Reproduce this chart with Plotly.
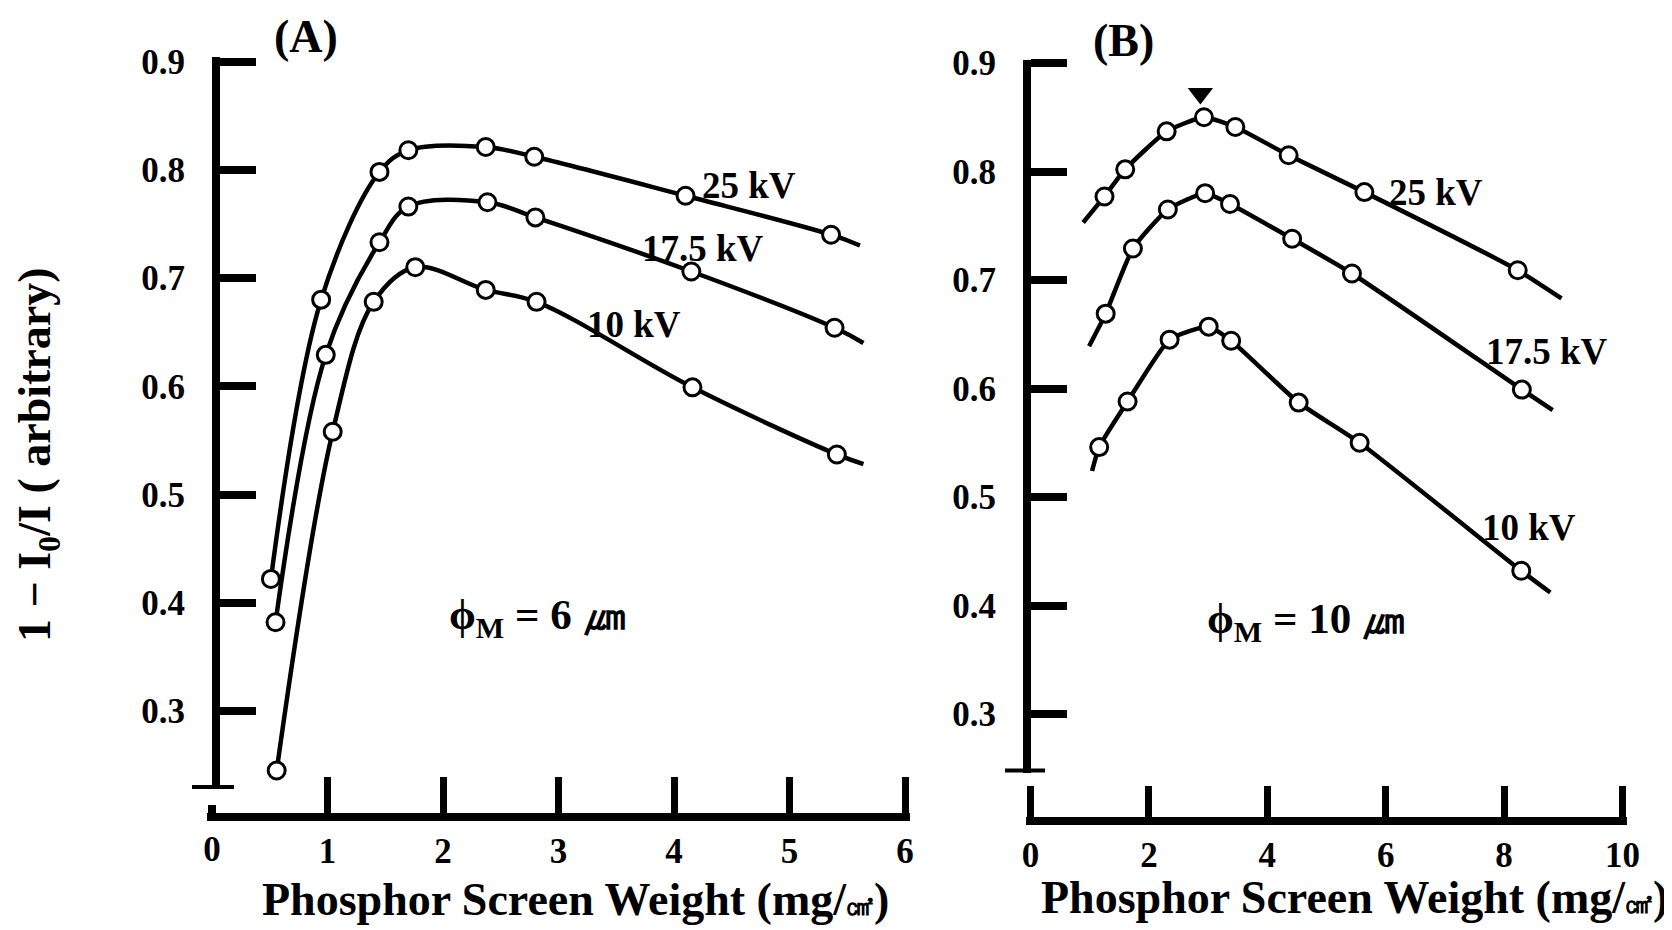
import plotly.graph_objects as go

# ---------------- data ----------------
# Panel A  (phi_M = 6 um)
a25_x = [0.51, 0.945, 1.45, 1.70, 2.37, 2.79, 4.10, 5.36]
a25_y = [0.422, 0.680, 0.798, 0.818, 0.821, 0.812, 0.776, 0.740]
a175_x = [0.55, 0.985, 1.45, 1.70, 2.385, 2.80, 4.15, 5.39]
a175_y = [0.382, 0.629, 0.733, 0.766, 0.770, 0.756, 0.706, 0.654]
a10_x = [0.56, 1.045, 1.40, 1.76, 2.37, 2.81, 4.16, 5.41]
a10_y = [0.245, 0.558, 0.678, 0.710, 0.689, 0.678, 0.599, 0.537]
# fitted-curve end points beyond the last datum
a25_end = (5.61, 0.730)
a175_end = (5.64, 0.640)
a10_end = (5.64, 0.528)

# Panel B  (phi_M = 10 um)
b25_x = [1.25, 1.60, 2.30, 2.93, 3.46, 4.36, 5.64, 8.23]
b25_y = [0.777, 0.802, 0.837, 0.850, 0.841, 0.815, 0.781, 0.709]
b175_x = [1.27, 1.73, 2.32, 2.95, 3.37, 4.42, 5.43, 8.30]
b175_y = [0.669, 0.729, 0.765, 0.780, 0.770, 0.738, 0.706, 0.599]
b10_x = [1.16, 1.64, 2.35, 3.01, 3.39, 4.53, 5.56, 8.29]
b10_y = [0.546, 0.588, 0.645, 0.657, 0.644, 0.587, 0.550, 0.432]
b25_start, b25_end = (0.89, 0.753), (8.97, 0.683)
b175_start, b175_end = (0.99, 0.639), (8.82, 0.580)
b10_start, b10_end = (1.04, 0.524), (8.78, 0.412)
b_peak_marker = (2.87, 0.872)

series_labels = ["25 kV", "17.5 kV", "10 kV"]
a_label_pos = [(4.65, 0.785), (4.25, 0.727), (3.65, 0.657)]
b_label_pos = [(6.85, 0.781), (8.72, 0.634), (8.42, 0.472)]

y_ticks = [0.3, 0.4, 0.5, 0.6, 0.7, 0.8, 0.9]
a_x_ticks = [1, 2, 3, 4, 5, 6]
b_x_ticks = [0, 2, 4, 6, 8, 10]

# ---------------- styling ----------------
# The page body has an 8px default margin, so the figure is made 8px smaller
# and every page-pixel position is shifted by that offset.
OFF = 8
W, H = 1672 - OFF, 930 - OFF
FONT = "Liberation Serif"
BLACK = "black"

def px(v):
    return (v - OFF) / W

def py(v):
    return 1 - (v - OFF) / H

fig = go.Figure()

marker_style = dict(symbol="circle", size=17, color="white",
                    line=dict(color=BLACK, width=3))

def add_series(xs, ys, start, end, xa, ya, smooth):
    lx = ([start[0]] if start else []) + list(xs) + [end[0]]
    ly = ([start[1]] if start else []) + list(ys) + [end[1]]
    fig.add_trace(go.Scatter(x=lx, y=ly, mode="lines", xaxis=xa, yaxis=ya,
                             line=dict(color=BLACK, width=4.5, shape="spline",
                                       smoothing=smooth),
                             hoverinfo="skip", showlegend=False))
    fig.add_trace(go.Scatter(x=xs, y=ys, mode="markers", xaxis=xa, yaxis=ya,
                             marker=marker_style, showlegend=False))

add_series(a25_x, a25_y, None, a25_end, "x", "y", 1.0)
add_series(a175_x, a175_y, None, a175_end, "x", "y", 1.0)
add_series(a10_x, a10_y, None, a10_end, "x", "y", 1.0)
add_series(b25_x, b25_y, b25_start, b25_end, "x2", "y2", 0.5)
add_series(b175_x, b175_y, b175_start, b175_end, "x2", "y2", 0.5)
add_series(b10_x, b10_y, b10_start, b10_end, "x2", "y2", 0.5)

fig.add_trace(go.Scatter(x=[b_peak_marker[0]], y=[b_peak_marker[1]], mode="markers",
                         xaxis="x2", yaxis="y2",
                         marker=dict(symbol="triangle-down", size=22, color=BLACK),
                         showlegend=False))
# dummy trace so the overlay axis carrying the "0" stub is drawn
fig.add_trace(go.Scatter(x=[0], y=[None], xaxis="x3", yaxis="y", mode="markers",
                         showlegend=False, hoverinfo="skip"))

tickfont = dict(family=FONT, size=35, color=BLACK, weight="bold")

axis_common = dict(showgrid=False, zeroline=False, showline=True,
                   linecolor=BLACK, ticks="inside", tickcolor=BLACK,
                   tickfont=tickfont, automargin=False)

# Panel A geometry (page pixels)
a_x0, a_unit = 212.0, 115.5
a_xr = [-0.04, 6.04]
a_yr = [0.228, 0.904]
a_ytop = 61.5 - (a_yr[1] - 0.9) * 1082.5
a_ybot = 61.5 + (0.9 - a_yr[0]) * 1082.5

# Panel B geometry (page pixels)
b_x0, b_unit = 1030.5, 59.2
b_xr = [-0.07, 10.08]
b_yr = [0.246, 0.903]
b_ytop = 63 - (b_yr[1] - 0.9) * 1085
b_ybot = 63 + (0.9 - b_yr[0]) * 1085

fig.update_layout(
    width=W, height=H, autosize=False,
    margin=dict(l=0, r=0, t=0, b=0, pad=0),
    paper_bgcolor="white", plot_bgcolor="rgba(0,0,0,0)",
    showlegend=False,
    xaxis=dict(axis_common, domain=[px(a_x0 + a_unit * a_xr[0]), px(a_x0 + a_unit * a_xr[1])],
               range=a_xr, anchor="free", position=py(817),
               tickvals=a_x_ticks, ticktext=[str(t) for t in a_x_ticks],
               ticklen=36, tickwidth=7, linewidth=8, ticklabelstandoff=0),
    xaxis3=dict(showgrid=False, zeroline=False, showline=False, automargin=False,
                overlaying="x", range=a_xr, anchor="free", position=py(817),
                ticks="inside", tickcolor=BLACK, ticklen=12, tickwidth=8,
                tickvals=[0], ticktext=["0"], tickfont=tickfont, ticklabelstandoff=8),
    yaxis=dict(axis_common, domain=[py(a_ybot), py(a_ytop)], range=a_yr,
               anchor="free", position=px(216),
               tickvals=y_ticks, ticktext=[f"{t:.1f}" for t in y_ticks],
               ticklen=36, tickwidth=8, linewidth=8, ticklabelstandoff=20),
    xaxis2=dict(axis_common, domain=[px(b_x0 + b_unit * b_xr[0]), px(b_x0 + b_unit * b_xr[1])],
                range=b_xr, anchor="free", position=py(821),
                tickvals=b_x_ticks, ticktext=[str(t) for t in b_x_ticks],
                ticklen=31, tickwidth=7, linewidth=8, ticklabelstandoff=0),
    yaxis2=dict(axis_common, domain=[py(b_ybot), py(b_ytop)], range=b_yr,
                anchor="free", position=px(1027),
                tickvals=y_ticks, ticktext=[f"{t:.1f}" for t in y_ticks],
                ticklen=36, tickwidth=8, linewidth=8, ticklabelstandoff=20),
)

# axis "feet" at the bottom of each y axis
fig.add_shape(type="line", xref="paper", yref="y", x0=px(192), x1=px(234),
              y0=a_yr[0], y1=a_yr[0], line=dict(color=BLACK, width=8))
fig.add_shape(type="line", xref="paper", yref="y2", x0=px(1005), x1=px(1045),
              y0=b_yr[0], y1=b_yr[0], line=dict(color=BLACK, width=8))

def ann(text, x, y, xref, yref, size, **kw):
    fig.add_annotation(text=text, x=x, y=y, xref=xref, yref=yref, showarrow=False,
                       font=dict(family=FONT, size=size, color=BLACK, weight="bold"),
                       xanchor="center", yanchor="middle", **kw)

for lab, (lx, ly) in zip(series_labels, a_label_pos):
    ann(lab, lx, ly, "x", "y", 37)
for lab, (lx, ly) in zip(series_labels, b_label_pos):
    ann(lab, lx, ly, "x2", "y2", 37)

ann("ϕ<sub>M</sub> = 6 ㎛", 2.82, 0.386, "x", "y", 43)
ann("ϕ<sub>M</sub> = 10 ㎛", 4.65, 0.385, "x2", "y2", 43)

ann("(A)", px(306), py(36), "paper", "paper", 46)
ann("(B)", px(1123), py(40), "paper", "paper", 46)

ann("1 − I<sub>0</sub>/I ( arbitrary)", px(38), py(455), "paper", "paper", 46, textangle=-90)

xtitle = "Phosphor Screen Weight (mg/<span style='font-size:28px'>㎠</span>)"
ann(xtitle, px(575), py(899), "paper", "paper", 46)
ann(xtitle, px(1354), py(897), "paper", "paper", 46)

fig.write_html("out.html")
